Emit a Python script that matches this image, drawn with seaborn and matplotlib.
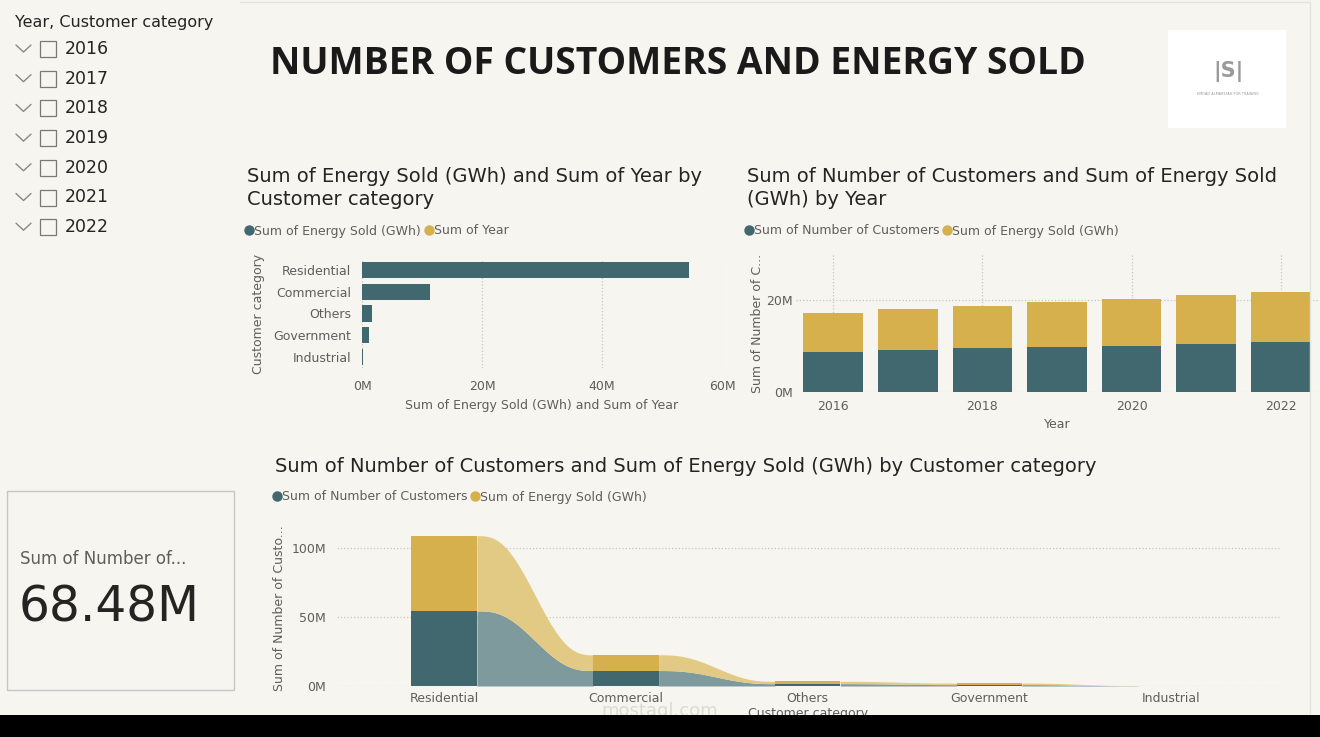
import numpy as np
import pandas as pd
import matplotlib.pyplot as plt
import seaborn as sns
from matplotlib.lines import Line2D
from matplotlib.patches import Rectangle
from matplotlib.ticker import FuncFormatter

# data (millions)
categories = ["Residential", "Commercial", "Others", "Government", "Industrial"]
energy_by_cat = [54.5, 11.4, 1.7, 1.1, 0.1]
customers_by_cat = [54.4, 11.2, 1.7, 1.0, 0.18]
years = [2016, 2017, 2018, 2019, 2020, 2021, 2022]
customers_by_year = [8.7, 9.1, 9.5, 9.8, 10.1, 10.4, 10.9]
energy_by_year = [8.5, 8.9, 9.3, 9.7, 10.1, 10.6, 10.8]
card_value = "68.48M"

TEAL = "#41676F"
GOLD = "#D5B04C"
TEAL_L = "#7F9A9D"
GOLD_L = "#E3CA84"
BG = "#F6F5F0"
GREY = "#605E5C"
GRID = "#C8C6C4"

sns.set_style("white")
plt.rcParams["font.family"] = ["DejaVu Sans"]

W, H = 1320, 737
fig = plt.figure(figsize=(W / 100, H / 100), dpi=100, facecolor=BG)


def fx(x):
    return x / W


def fy(y):
    return 1 - y / H


def add_ax(l, t, r, b):
    ax = fig.add_axes([fx(l), fy(b), (r - l) / W, (b - t) / H])
    ax.set_facecolor(BG)
    sns.despine(ax=ax, left=True, bottom=True)
    ax.tick_params(length=0, labelsize=9, labelcolor=GREY)
    return ax


mfmt = FuncFormatter(lambda v, p: f"{v:.0f}M")

# slicer
fig.text(fx(15), fy(22), "Year, Customer category", fontsize=11.5, color="#252423", va="center")
for i, yr in enumerate(years):
    yy = 49 + i * 29.7
    fig.add_artist(Line2D([fx(16), fx(23.5), fx(31)], [fy(yy - 4), fy(yy + 3), fy(yy - 4)],
                          color="#8a8886", lw=1))
    fig.patches.append(Rectangle((fx(40), fy(yy + 8)), 16 / W, 16 / H, transform=fig.transFigure,
                                 fill=False, edgecolor="#7a7876", lw=0.9))
    fig.text(fx(65), fy(yy), str(yr), fontsize=12.5, color="#252423", va="center")

# title
fig.text(fx(678), fy(64), "NUMBER OF CUSTOMERS AND ENERGY SOLD", fontsize=26.8, fontweight="bold",
         family="Open Sans", color="#1a1a1a", ha="center", va="center")

# logo box
fig.patches.append(Rectangle((fx(1168), fy(128)), 118 / W, 98 / H, transform=fig.transFigure,
                             facecolor="white", edgecolor="none"))
fig.text(fx(1228), fy(72), "|S|", fontsize=15, color="#9a9a9a", ha="center", va="center", fontweight="bold")
fig.text(fx(1228), fy(94), "EMDAD ALMAREFAH FOR TRAINING", fontsize=2.5, color="#9a9a9a", ha="center", va="center")

# frame lines
fig.add_artist(Line2D([fx(240), fx(1310)], [fy(2), fy(2)], color="#e4e2dc", lw=1))
fig.add_artist(Line2D([fx(1310), fx(1310)], [fy(2), fy(715)], color="#e4e2dc", lw=1))


def legend(x, y, labels):
    handles = [Line2D([], [], marker="o", ls="", color=c, markersize=6.5) for c in (TEAL, GOLD)]
    fig.legend(handles, labels, loc="center left", bbox_to_anchor=(fx(x), fy(y)), ncol=2, frameon=False,
               fontsize=9, labelcolor=GREY, handletextpad=-0.1, columnspacing=0.1, handlelength=1.0,
               borderaxespad=0, borderpad=0)


# chart 1: energy by category
fig.text(fx(247), fy(188), "Sum of Energy Sold (GWh) and Sum of Year by\nCustomer category", fontsize=14,
         color="#252423", va="center", linespacing=1.25)
legend(243, 231, ["Sum of Energy Sold (GWh)", "Sum of Year"])
ax1 = add_ax(362, 259, 722, 368)
df1 = pd.DataFrame({"cat": categories, "energy": energy_by_cat})
sns.barplot(data=df1, y="cat", x="energy", color=TEAL, saturation=1, width=0.75, linewidth=0, ax=ax1)
ax1.set_xlim(0, 60)
ax1.set_xticks([0, 20, 40, 60])
ax1.xaxis.set_major_formatter(mfmt)
ax1.grid(axis="x", ls=":", color=GRID, lw=0.9)
ax1.set_axisbelow(True)
ax1.tick_params(axis="x", pad=9)
ax1.tick_params(axis="y", pad=8)
ax1.set_xlabel("Sum of Energy Sold (GWh) and Sum of Year", fontsize=9, color=GREY, labelpad=4)
ax1.set_ylabel("Customer category", fontsize=9, color=GREY, labelpad=6)

# chart 2: stacked by year
fig.text(fx(747), fy(188), "Sum of Number of Customers and Sum of Energy Sold\n(GWh) by Year", fontsize=14,
         color="#252423", va="center", linespacing=1.25)
legend(743, 231, ["Sum of Number of Customers", "Sum of Energy Sold (GWh)"])
ax2 = add_ax(796, 254, 1318, 392)
df2 = pd.DataFrame({"year": years, "cust": customers_by_year, "energy": energy_by_year})
df2["total"] = df2["cust"] + df2["energy"]
sns.barplot(data=df2, x="year", y="total", color=GOLD, saturation=1, width=0.8, linewidth=0, ax=ax2)
sns.barplot(data=df2, x="year", y="cust", color=TEAL, saturation=1, width=0.8, linewidth=0, ax=ax2)
ax2.set_ylim(0, 30)
ax2.set_yticks([0, 20])
ax2.yaxis.set_major_formatter(mfmt)
ax2.set_xticks([0, 2, 4, 6])
ax2.set_xticklabels(["2016", "2018", "2020", "2022"])
ax2.grid(ls=":", color=GRID, lw=0.9)
ax2.set_axisbelow(True)
ax2.tick_params(axis="x", pad=6)
ax2.tick_params(axis="y", pad=2)
ax2.set_xlabel("Year", fontsize=9, color=GREY, labelpad=3)
ax2.set_ylabel("Sum of Number of C...", fontsize=9, color=GREY, labelpad=2)

# chart 3: ribbon by category
fig.text(fx(275), fy(466), "Sum of Number of Customers and Sum of Energy Sold (GWh) by Customer category",
         fontsize=14, color="#252423", va="center")
legend(271, 497, ["Sum of Number of Customers", "Sum of Energy Sold (GWh)"])
ax3 = add_ax(337, 530, 1280, 686)
df3 = pd.DataFrame({"cat": categories, "cust": customers_by_cat, "energy": energy_by_cat})
df3["total"] = df3["cust"] + df3["energy"]
bw = 0.36
for i in range(len(categories) - 1):
    x0, x1 = i + bw / 2, i + 1 - bw / 2
    t = np.linspace(0, 1, 80)
    s = t ** 3 * (t * (6 * t - 15) + 10)
    xs = x0 + (x1 - x0) * t
    c = df3["cust"].iloc[i] + (df3["cust"].iloc[i + 1] - df3["cust"].iloc[i]) * s
    tt = df3["total"].iloc[i] + (df3["total"].iloc[i + 1] - df3["total"].iloc[i]) * s
    ax3.fill_between(xs, 0, c, color=TEAL_L, lw=0, zorder=2)
    ax3.fill_between(xs, c, tt, color=GOLD_L, lw=0, zorder=2)
sns.barplot(data=df3, x="cat", y="total", color=GOLD, saturation=1, width=bw, linewidth=0, ax=ax3, zorder=3)
sns.barplot(data=df3, x="cat", y="cust", color=TEAL, saturation=1, width=bw, linewidth=0, ax=ax3, zorder=3)
ax3.set_xlim(-0.59, 4.6)
ax3.set_ylim(0, 113)
ax3.set_yticks([0, 50, 100])
ax3.yaxis.set_major_formatter(mfmt)
ax3.grid(axis="y", ls=":", color=GRID, lw=0.9)
ax3.set_axisbelow(True)
ax3.tick_params(axis="x", pad=4)
ax3.tick_params(axis="y", pad=8)
ax3.set_xlabel("Customer category", fontsize=9, color=GREY, labelpad=2)
ax3.set_ylabel("Sum of Number of Custo...", fontsize=9, color=GREY, labelpad=4)

# card
fig.patches.append(Rectangle((fx(7), fy(690)), 227 / W, 199 / H, transform=fig.transFigure,
                             facecolor=BG, edgecolor="#C8C6C4", lw=1))
fig.text(fx(20), fy(559), "Sum of Number of...", fontsize=12, color=GREY, va="center")
fig.text(fx(19), fy(607), card_value, fontsize=35, color="#252423", va="center")

# watermark
fig.text(fx(660), fy(711), "mostaql.com", fontsize=13, color="#dcdad5", ha="center", va="center", zorder=5)

# bottom black band
fig.patches.append(Rectangle((0, 0), 1, 22 / H, transform=fig.transFigure, facecolor="black",
                             edgecolor="none", zorder=10))

fig.savefig("out.png", dpi=100, facecolor=BG)
